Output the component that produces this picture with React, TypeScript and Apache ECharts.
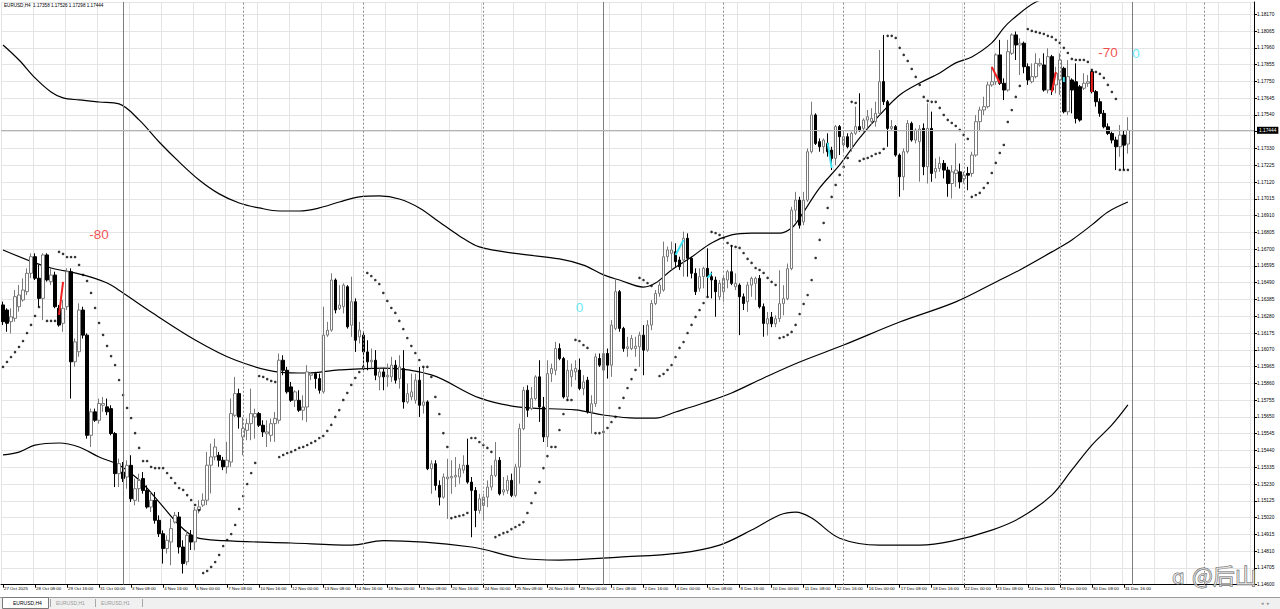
import React, { useEffect, useRef } from "react";
import * as echarts from "echarts";

// ---------- scale ----------
const BASE = 1.146; // prices are plotted as (price - BASE) so ticks start at a multiple of the step
const TICK_STEP = 0.00105;
const Y_TOP = 1.18247;
const SLOT_COUNT = 313; // 282 bars + empty shift area on the right
const LAST_PRICE = 1.17444;
const HEADER = "EURUSD,H4  1.17358 1.17526 1.17298 1.17444";

const DATE_TICKS = [
  "27 Oct 2025", "28 Oct 08:00", "29 Oct 16:00", "31 Oct 00:00", "3 Nov 08:00", "4 Nov 16:00",
  "6 Nov 00:00", "7 Nov 08:00", "10 Nov 16:00", "12 Nov 00:00", "13 Nov 08:00", "14 Nov 16:00",
  "18 Nov 00:00", "19 Nov 08:00", "20 Nov 16:00", "24 Nov 00:00", "25 Nov 08:00", "26 Nov 16:00",
  "28 Nov 00:00", "1 Dec 08:00", "2 Dec 16:00", "4 Dec 00:00", "5 Dec 08:00", "8 Dec 16:00",
  "10 Dec 00:00", "11 Dec 08:00", "12 Dec 16:00", "16 Dec 00:00", "17 Dec 08:00", "18 Dec 16:00",
  "22 Dec 00:00", "23 Dec 08:00", "24 Dec 16:00", "29 Dec 00:00", "30 Dec 08:00", "31 Dec 16:00",
];

// ---------- candles [open, close, low, high] ----------
const OHLC_OCT = [
  [1.16351, 1.16246, 1.16225, 1.16372], [1.16319, 1.16236, 1.16183, 1.1633], [1.16246, 1.16277, 1.16173, 1.1633],
  [1.16267, 1.16403, 1.16246, 1.16444], [1.1634, 1.16413, 1.16309, 1.16476], [1.16382, 1.16444, 1.16372, 1.16518],
  [1.16434, 1.16549, 1.16413, 1.1658], [1.16549, 1.16653, 1.16518, 1.16674], [1.16653, 1.16518, 1.16507, 1.16674],
  [1.16518, 1.16392, 1.1634, 1.16601], [1.16392, 1.16664, 1.16256, 1.16674], [1.16664, 1.16507, 1.16497, 1.16674],
  [1.16497, 1.16538, 1.16476, 1.1658], [1.16538, 1.1634, 1.1633, 1.16559], [1.1633, 1.16225, 1.16215, 1.16351],
  [1.16236, 1.1633, 1.16183, 1.16382], [1.1634, 1.16559, 1.16319, 1.1658], [1.16559, 1.15995, 1.15765, 1.1658],
  [1.15995, 1.1612, 1.15964, 1.16141], [1.16058, 1.16319, 1.16026, 1.16361], [1.16319, 1.16162, 1.16141, 1.1634],
  [1.16162, 1.15535, 1.15514, 1.16173], [1.15535, 1.15682, 1.15462, 1.15702], [1.15682, 1.15629, 1.15619, 1.15702],
  [1.15629, 1.15734, 1.15608, 1.15765], [1.15723, 1.15734, 1.15682, 1.15775], [1.15713, 1.15682, 1.15661, 1.15765],
  [1.15702, 1.15546, 1.15535, 1.15723], [1.15546, 1.15295, 1.15211, 1.15556], [1.15295, 1.15358, 1.15211, 1.15389],
];
const OHLC_NOV_A = [
  [1.15305, 1.15264, 1.15243, 1.15368], [1.15274, 1.15347, 1.15201, 1.15379], [1.15347, 1.15138, 1.15118, 1.1541],
  [1.15128, 1.15201, 1.15097, 1.15264], [1.15201, 1.15253, 1.15118, 1.15295], [1.15264, 1.1519, 1.1517, 1.15305],
  [1.1519, 1.15086, 1.15076, 1.15222], [1.15086, 1.15128, 1.15055, 1.1518], [1.15128, 1.15003, 1.14982, 1.1518],
  [1.15003, 1.14919, 1.14899, 1.15034], [1.14919, 1.14826, 1.14732, 1.1494], [1.14826, 1.14878, 1.14795, 1.14909],
  [1.14867, 1.14951, 1.14722, 1.15013], [1.14992, 1.15034, 1.14982, 1.15055], [1.15024, 1.14836, 1.14795, 1.15055],
  [1.14836, 1.14732, 1.1467, 1.14878], [1.14743, 1.14909, 1.14722, 1.1494], [1.14911, 1.14867, 1.14817, 1.14942],
  [1.14868, 1.15067, 1.14816, 1.15087], [1.15067, 1.15087, 1.15046, 1.15129], [1.15098, 1.15129, 1.15087, 1.15171],
  [1.15129, 1.15348, 1.15098, 1.15431], [1.15348, 1.154, 1.15171, 1.15483], [1.154, 1.15462, 1.15379, 1.15514],
  [1.1541, 1.15379, 1.15338, 1.15431], [1.15379, 1.15338, 1.15317, 1.154], [1.15338, 1.15379, 1.15296, 1.15494],
  [1.15368, 1.15671, 1.15338, 1.15765], [1.1566, 1.15796, 1.1565, 1.15901], [1.15796, 1.1565, 1.15577, 1.15827],
];
const OHLC_NOV_B = [
  [1.15525, 1.15577, 1.1541, 1.1565], [1.15566, 1.15608, 1.15504, 1.1564], [1.15608, 1.15671, 1.15504, 1.15827],
  [1.1565, 1.15671, 1.15514, 1.15702], [1.15671, 1.15598, 1.15587, 1.15681], [1.15598, 1.15556, 1.15525, 1.15629],
  [1.15545, 1.15556, 1.15462, 1.15629], [1.15535, 1.15608, 1.15494, 1.1564], [1.15608, 1.1564, 1.15494, 1.15681],
  [1.15629, 1.16005, 1.15608, 1.16047], [1.16005, 1.15942, 1.15911, 1.16036], [1.15942, 1.15807, 1.15796, 1.15963],
  [1.15838, 1.15754, 1.15744, 1.15869], [1.15754, 1.15807, 1.15712, 1.15817], [1.15754, 1.15692, 1.15681, 1.15817],
  [1.15692, 1.15712, 1.15629, 1.15786], [1.15712, 1.15932, 1.15619, 1.15974], [1.15911, 1.15921, 1.1588, 1.15932],
  [1.15921, 1.1589, 1.15827, 1.15932], [1.1589, 1.15817, 1.15796, 1.15921], [1.15807, 1.16162, 1.15796, 1.1634],
  [1.16162, 1.16193, 1.16151, 1.16245], [1.16193, 1.16507, 1.16183, 1.16549], [1.16507, 1.16319, 1.16298, 1.16517],
  [1.16329, 1.1635, 1.16319, 1.16475], [1.1634, 1.16475, 1.16298, 1.16486], [1.16465, 1.16214, 1.16203, 1.16475],
  [1.16224, 1.16371, 1.16151, 1.16528], [1.16371, 1.1613, 1.16057, 1.16392], [1.16151, 1.16193, 1.1611, 1.16245],
];
const OHLC_NOV_C = [
  [1.16162, 1.16057, 1.15942, 1.16183], [1.16057, 1.15995, 1.15942, 1.1613], [1.15995, 1.16005, 1.15953, 1.16078],
  [1.16005, 1.15911, 1.1588, 1.16068], [1.15901, 1.15932, 1.15817, 1.15953], [1.15932, 1.15901, 1.15817, 1.15953],
  [1.15901, 1.15911, 1.15838, 1.15984], [1.15901, 1.15974, 1.15869, 1.16026], [1.15974, 1.1588, 1.15859, 1.16005],
  [1.1589, 1.15963, 1.15827, 1.16036], [1.15953, 1.15744, 1.15702, 1.16068], [1.15744, 1.15796, 1.15733, 1.15859],
  [1.15775, 1.15807, 1.15754, 1.15921], [1.15754, 1.1588, 1.15733, 1.15921], [1.1588, 1.15723, 1.1565, 1.15963],
  [1.15723, 1.15744, 1.15671, 1.15963], [1.15744, 1.15326, 1.15317, 1.15754], [1.15326, 1.15357, 1.15169, 1.15379],
  [1.15357, 1.15221, 1.1519, 1.15379], [1.15221, 1.15148, 1.15096, 1.15253], [1.15148, 1.15274, 1.15138, 1.15296],
  [1.15263, 1.15274, 1.15012, 1.15388], [1.15269, 1.15278, 1.15169, 1.15379], [1.15274, 1.15284, 1.15211, 1.15399],
  [1.15274, 1.15326, 1.15232, 1.15357], [1.15317, 1.15348, 1.15296, 1.1541], [1.15348, 1.15242, 1.15232, 1.15514],
  [1.15242, 1.1519, 1.14897, 1.15274], [1.1519, 1.15065, 1.1496, 1.15211], [1.15065, 1.15138, 1.15044, 1.15169],
];
const OHLC_NOV_D = [
  [1.15096, 1.15148, 1.15002, 1.15169], [1.15148, 1.15211, 1.15085, 1.15253], [1.15211, 1.15284, 1.1519, 1.15348],
  [1.15284, 1.15379, 1.15274, 1.15493], [1.15379, 1.15169, 1.15159, 1.15399], [1.1518, 1.15194, 1.15159, 1.15274],
  [1.1519, 1.15253, 1.15169, 1.15284], [1.15253, 1.15159, 1.15148, 1.15295], [1.15159, 1.15336, 1.15148, 1.15357],
  [1.15336, 1.15577, 1.15232, 1.15608], [1.15577, 1.15817, 1.15566, 1.15838], [1.15817, 1.15692, 1.1565, 1.15848],
  [1.15702, 1.15765, 1.15692, 1.15838], [1.15765, 1.15901, 1.15754, 1.15911], [1.15901, 1.15712, 1.15619, 1.16005],
  [1.15712, 1.15525, 1.15493, 1.15775], [1.15525, 1.15921, 1.15462, 1.16005], [1.15921, 1.15953, 1.15869, 1.15984],
  [1.15942, 1.16078, 1.15911, 1.1612], [1.16078, 1.16015, 1.16005, 1.1611], [1.16015, 1.15775, 1.15765, 1.16026],
  [1.15775, 1.15942, 1.15754, 1.16005], [1.15901, 1.15942, 1.15838, 1.15984], [1.15932, 1.15953, 1.1588, 1.16005],
  [1.15943, 1.15828, 1.15817, 1.16016], [1.15828, 1.15869, 1.15786, 1.15911], [1.1588, 1.15681, 1.15671, 1.15901],
  [1.15681, 1.15733, 1.15545, 1.15786], [1.15733, 1.16026, 1.15713, 1.16047], [1.16016, 1.15974, 1.15963, 1.16047],
];
const OHLC_DEC_A = [
  [1.15943, 1.16047, 1.1589, 1.16058], [1.16047, 1.15974, 1.1589, 1.16078], [1.15974, 1.16225, 1.15901, 1.16256],
  [1.16204, 1.16434, 1.16193, 1.16517], [1.16434, 1.16204, 1.16183, 1.16444], [1.16204, 1.16078, 1.16058, 1.16214],
  [1.16078, 1.16089, 1.16026, 1.16152], [1.16078, 1.16141, 1.16068, 1.16162], [1.16078, 1.16093, 1.16026, 1.16152],
  [1.16089, 1.16162, 1.15963, 1.16183], [1.16162, 1.16068, 1.15911, 1.16225], [1.16068, 1.16225, 1.16058, 1.16256],
  [1.16225, 1.1636, 1.16193, 1.16381], [1.1636, 1.16423, 1.1635, 1.16444], [1.16423, 1.16475, 1.16402, 1.16496],
  [1.16444, 1.16653, 1.16434, 1.16747], [1.16653, 1.16695, 1.16622, 1.16716], [1.16674, 1.16695, 1.1657, 1.16747],
  [1.16684, 1.16622, 1.1659, 1.16737], [1.16632, 1.1659, 1.1657, 1.16653], [1.16632, 1.16768, 1.16528, 1.1681],
  [1.16768, 1.16643, 1.16528, 1.16799], [1.16643, 1.16549, 1.16517, 1.16653], [1.16549, 1.16434, 1.16413, 1.1658],
  [1.16455, 1.16528, 1.16434, 1.1658], [1.16528, 1.1658, 1.16455, 1.1659], [1.1658, 1.16528, 1.16402, 1.16705],
  [1.16528, 1.16507, 1.16392, 1.16559], [1.16507, 1.16434, 1.16277, 1.16528], [1.16402, 1.16486, 1.16381, 1.16507],
];
const OHLC_DEC_B = [
  [1.16434, 1.16517, 1.16371, 1.16538], [1.16507, 1.16559, 1.16455, 1.1657], [1.16559, 1.16486, 1.16475, 1.16726],
  [1.16465, 1.16486, 1.16444, 1.16549], [1.16475, 1.16402, 1.16162, 1.16486], [1.16402, 1.1636, 1.16319, 1.16423],
  [1.16371, 1.16475, 1.16308, 1.16496], [1.16475, 1.16517, 1.16402, 1.16528], [1.16486, 1.16517, 1.16381, 1.16528],
  [1.16517, 1.1634, 1.16329, 1.16538], [1.1634, 1.16235, 1.16152, 1.1636], [1.16233, 1.16265, 1.1616, 1.16307],
  [1.16275, 1.16233, 1.16212, 1.16307], [1.16233, 1.16265, 1.16212, 1.16286], [1.16265, 1.16359, 1.16244, 1.16568],
  [1.16359, 1.1639, 1.16286, 1.16474], [1.1639, 1.16578, 1.1638, 1.1661], [1.16578, 1.16944, 1.16568, 1.16965],
  [1.16944, 1.17007, 1.16871, 1.17059], [1.17007, 1.1685, 1.16829, 1.17028], [1.16871, 1.17007, 1.1685, 1.17059],
  [1.17007, 1.1731, 1.16996, 1.17331], [1.1731, 1.1754, 1.17299, 1.17623], [1.1754, 1.17362, 1.17352, 1.1755],
  [1.17373, 1.17341, 1.1731, 1.17393], [1.17341, 1.17383, 1.17299, 1.17393], [1.17362, 1.1731, 1.17279, 1.17425],
  [1.1732, 1.17268, 1.17195, 1.17341], [1.17268, 1.17467, 1.17226, 1.17477], [1.17467, 1.17404, 1.17289, 1.17477],
];
const OHLC_DEC_C = [
  [1.17352, 1.17404, 1.1731, 1.17435], [1.17404, 1.17341, 1.17331, 1.17425], [1.17331, 1.17425, 1.1731, 1.17435],
  [1.17425, 1.17467, 1.17414, 1.17592], [1.17467, 1.17446, 1.17435, 1.17676], [1.17456, 1.17508, 1.17435, 1.17519],
  [1.17508, 1.17529, 1.17456, 1.17571], [1.17498, 1.17519, 1.17477, 1.17582], [1.17498, 1.1755, 1.17467, 1.17623],
  [1.1755, 1.17749, 1.1754, 1.17947], [1.17749, 1.17623, 1.17602, 1.18041], [1.17623, 1.17456, 1.17341, 1.17634],
  [1.17456, 1.17467, 1.17446, 1.17508], [1.17467, 1.17289, 1.17279, 1.17477], [1.17289, 1.17153, 1.17028, 1.17299],
  [1.17153, 1.1731, 1.17069, 1.17331], [1.1731, 1.17487, 1.17299, 1.17508], [1.17487, 1.17383, 1.17373, 1.17498],
  [1.17383, 1.17446, 1.17362, 1.17456], [1.17373, 1.17452, 1.17122, 1.17477], [1.17456, 1.17216, 1.17163, 1.17487],
  [1.17216, 1.17456, 1.17111, 1.17613], [1.17456, 1.17174, 1.17122, 1.17561], [1.17184, 1.17205, 1.17143, 1.17268],
  [1.17205, 1.17237, 1.17184, 1.17279], [1.17237, 1.17195, 1.17143, 1.17258], [1.17195, 1.17111, 1.17028, 1.17216],
  [1.17111, 1.17184, 1.17017, 1.17226], [1.17174, 1.17195, 1.1709, 1.17362], [1.17184, 1.17121, 1.1708, 1.17236],
];
const OHLC_DEC_D = [
  [1.17142, 1.17163, 1.17111, 1.17184], [1.17174, 1.17163, 1.17069, 1.17215], [1.17174, 1.17289, 1.17153, 1.1731],
  [1.17289, 1.17498, 1.17278, 1.17539], [1.17498, 1.17571, 1.17445, 1.17592], [1.17571, 1.17592, 1.17539, 1.17654],
  [1.17592, 1.17728, 1.17581, 1.17748], [1.17728, 1.17748, 1.17717, 1.17842], [1.17748, 1.17916, 1.17728, 1.17926],
  [1.17916, 1.17738, 1.17728, 1.1801], [1.17738, 1.17696, 1.17633, 1.17769], [1.17696, 1.17936, 1.17686, 1.1801],
  [1.17926, 1.18041, 1.17916, 1.18051], [1.18041, 1.17978, 1.17884, 1.18062], [1.17978, 1.17989, 1.1779, 1.1802],
  [1.17989, 1.17842, 1.17801, 1.17999], [1.17842, 1.17759, 1.17728, 1.17863], [1.17748, 1.1778, 1.17738, 1.17863],
  [1.1778, 1.17863, 1.17769, 1.17926], [1.17853, 1.17863, 1.17842, 1.17895], [1.17853, 1.17696, 1.17686, 1.17926],
  [1.17696, 1.17905, 1.17675, 1.17957], [1.17905, 1.17696, 1.17665, 1.17916], [1.17728, 1.17801, 1.17675, 1.17842],
];
const OHLC_DEC_E = [
  [1.17759, 1.17884, 1.17665, 1.17926], [1.17832, 1.1756, 1.1755, 1.17842], [1.1756, 1.1778, 1.17539, 1.17884],
  [1.17759, 1.17696, 1.1755, 1.17769], [1.17748, 1.17518, 1.17487, 1.17863], [1.17717, 1.17508, 1.17498, 1.17728],
  [1.17707, 1.17738, 1.17696, 1.17801], [1.17738, 1.17748, 1.17717, 1.1779], [1.17811, 1.17686, 1.17675, 1.17822],
  [1.17686, 1.17623, 1.17592, 1.17696], [1.17623, 1.1755, 1.17529, 1.17644], [1.1755, 1.17466, 1.17456, 1.17571],
  [1.17466, 1.17424, 1.17414, 1.17487], [1.17424, 1.17383, 1.17362, 1.17435], [1.17383, 1.17341, 1.17195, 1.17404],
  [1.17341, 1.17414, 1.17278, 1.17477], [1.17414, 1.17351, 1.17195, 1.17445], [1.17358, 1.17444, 1.17298, 1.17526],
];

// ---------- Parabolic SAR (one value per bar, null = no dot) ----------
const SAR_A = [
  1.15963, 1.15994, 1.16025, 1.16056, 1.16088, 1.16125, 1.16175, 1.16226, 1.16282, 1.16338,
  null, 1.16251, 1.16251, 1.16251, 1.16683, 1.1667, 1.16651, 1.16651, 1.16651, 1.16601,
  1.16539, 1.16501, 1.16426, 1.16332, 1.16238, 1.16163, 1.16094, 1.16031, 1.15975, 1.15881,
  1.15787, 1.15706, 1.15643, 1.15549, 1.15456, 1.15374, 1.15374, 1.15337, 1.1533, 1.1533,
  1.1533, 1.15299, 1.15268, 1.15236, 1.15205, 1.15193, 1.15161, 1.1513, 1.15099, 1.15067,
  1.14673, 1.14686, 1.14711, 1.14742, 1.14786, 1.14842, 1.1488, 1.14917, 1.14974, 1.15074,
  1.15155, 1.1523, 1.15299, 1.15362, 1.15906, 1.159, 1.15887, 1.15875, 1.15869, 1.15399,
  1.15412, 1.15424, 1.15431, 1.15443, 1.15456, 1.15462, 1.15474, 1.15487, 1.15499, 1.15518,
  1.15531, 1.15562, 1.156, 1.1565, 1.15693, 1.15756, 1.158, 1.1585, 1.15894, 1.15931,
  1.15963, 1.16551, 1.16532, 1.16507,
];
const SAR_B = [
  1.16482, 1.16426, 1.16376, 1.16332, 1.16301, 1.16251, 1.162, 1.16144, 1.16094, 1.1605,
  1.16006, 1.15963, 1.15963, 1.159, 1.15775, 1.15668, 1.15549, 1.15462, 1.15017, 1.15024,
  1.1503, 1.15036, 1.15049, 1.15518, 1.15518, 1.15493, 1.15474, 1.15456, 1.15431, 1.14898,
  1.14911, 1.14923, 1.1493, 1.14948, 1.14961, 1.14974, 1.14992, 1.15049, 1.15111, 1.15174,
  1.15243, 1.1533, 1.15405, 1.15462, 1.15462, 1.15568, 1.15668, 1.15756, 1.15756, 1.16132,
  1.16125, 1.161, 1.16082, null, 1.15549, 1.15549, 1.15556, 1.15581, 1.15618, 1.1565,
  1.15706, 1.15769, 1.15831, 1.15887, 1.15944, 1.1652, 1.16507, 1.16488, 1.1647, null,
  1.15906, 1.15919, 1.15944, 1.15975, 1.16025, 1.16082, 1.16119, 1.16175, 1.16226, 1.16276,
  1.16319, 1.16363, 1.16401, 1.16808, 1.16801, 1.16789, 1.1677, 1.16739, 1.1672, 1.16714,
  1.16708, 1.16676, 1.16639, 1.16614,
];
const SAR_C = [
  1.16582, 1.1657, 1.16551, 1.1652, 1.16495, 1.16476, 1.16144, 1.1615, 1.16163, 1.16182,
  1.16226, 1.16294, 1.16357, 1.16413, 1.16507, 1.16645, 1.16758, 1.16864, 1.16958, 1.17027,
  1.17102, 1.17165, 1.17215, 1.17271, 1.17622, 1.17615, 1.17252, 1.17265, 1.17271, 1.17283,
  1.17296, 1.17302, 1.17327, 1.18035, 1.18035, 1.18022, 1.1796, 1.17916, 1.17878, 1.17828,
  1.17778, 1.17728, 1.17653, 1.17628, 1.17622, 1.17622, 1.17584, 1.1754, 1.17509, 1.1749,
  1.17471, 1.17446, 1.17415, 1.1739, 1.17027, 1.17039, 1.17052, 1.17083, 1.17114, 1.17177,
  1.1724, 1.17302, 1.17352, 1.17496, 1.17571, 1.17653, 1.17722, null, 1.18078, 1.18066,
  1.1806, 1.18053, 1.18047, 1.18035, 1.18028, 1.1801, 1.17991, 1.1796, 1.17928, 1.17891,
  1.17884, 1.17884, 1.17884, 1.17872, 1.17822, 1.17809, 1.17797, 1.17772, 1.17728, 1.17684,
  1.1764, 1.17196, 1.17196, 1.17196,
];

// ---------- envelope lines, read as [bar, price] ----------
const UPPER_BAND = [
  [0, 1.17978], [4, 1.17884], [8, 1.17772], [12, 1.17684], [15, 1.17647], [19, 1.17634], [24, 1.17621],
  [29, 1.17609], [34, 1.17509], [39, 1.17371], [44, 1.17246], [49, 1.17133], [54, 1.17046], [59, 1.16989],
  [64, 1.16958], [69, 1.16939], [74, 1.16939], [79, 1.16958], [84, 1.16995], [89, 1.17027], [94, 1.17033],
  [99, 1.17014], [104, 1.16958], [109, 1.1687], [114, 1.16783], [119, 1.16714], [129, 1.1667], [139, 1.16639],
  [145, 1.166], [150, 1.16539], [154, 1.16507], [160, 1.16463], [163, 1.16488], [167, 1.1657], [172, 1.16651],
  [177, 1.16739], [182, 1.16789], [187, 1.16801], [194, 1.16801], [197, 1.16833], [199, 1.16895], [204, 1.17083],
  [209, 1.17227], [214, 1.17396], [219, 1.1754], [224, 1.17665], [229, 1.1774], [234, 1.17803], [238, 1.17866],
  [242, 1.17903], [247, 1.17991], [250, 1.18085], [252, 1.18135], [258, 1.18247], [264, 1.1829], [272, 1.1832],
  [281, 1.183],
];
const MID_BAND = [
  [0, 1.16695], [8, 1.16614], [12, 1.16582], [20, 1.16539], [26, 1.16488], [30, 1.16426], [37, 1.16307],
  [48, 1.16132], [58, 1.16006], [69, 1.15931], [76, 1.15925], [84, 1.15944], [95, 1.15956], [107, 1.15913],
  [119, 1.15769], [129, 1.15712], [143, 1.15694], [150, 1.15662], [158, 1.15643], [163, 1.15643], [168, 1.15681],
  [175, 1.15737], [182, 1.158], [190, 1.15894], [199, 1.15994], [210, 1.161], [224, 1.16244], [238, 1.1637],
  [249, 1.16507], [254, 1.1657], [262, 1.16683], [267, 1.16758], [272, 1.16852], [276, 1.16933], [281, 1.16995],
];
const LOWER_BAND = [
  [0, 1.15412], [4, 1.1543], [8, 1.15474], [14, 1.15487], [19, 1.15462], [24, 1.15399], [29, 1.15349],
  [34, 1.15255], [39, 1.15117], [44, 1.14973], [48, 1.14898], [55, 1.14876], [72, 1.14861], [87, 1.14848],
  [95, 1.14876], [117, 1.14836], [129, 1.14767], [139, 1.14754], [154, 1.14773], [169, 1.14798], [179, 1.14848],
  [187, 1.14942], [194, 1.15036], [198, 1.15054], [202, 1.15017], [209, 1.14891], [219, 1.14848], [229, 1.14848],
  [237, 1.14873], [247, 1.14942], [254, 1.15017], [262, 1.15161], [267, 1.15318], [272, 1.15474], [277, 1.156],
  [281, 1.15725],
];

// ---------- period separators (bar slots) ----------
const MONTH_SEPARATORS = [30, 150, 282];
const WEEK_SEPARATORS = [60, 90, 120, 180, 210, 240, 264, 300];

// ---------- signal marks ----------
const RED = "#f01e1e";
const CYAN = "#3fe3f2";
const SIGNAL_STROKES = [
  { color: RED, pts: [[14, 1.16288], [15, 1.16495]] },
  { color: CYAN, pts: [[168, 1.16664], [170, 1.16758]] },
  { color: CYAN, pts: [[176, 1.1652], [177, 1.16551]] },
  { color: CYAN, pts: [[206, 1.17365], [207, 1.17208]] },
  { color: RED, pts: [[247, 1.17841], [249, 1.1774]] },
  { color: RED, pts: [[262, 1.17684], [263, 1.17809]] },
  { color: CYAN, pts: [[265, 1.17778], [265, 1.17747]] },
  { color: RED, pts: [[272, 1.17809], [272, 1.17684]] },
];
const SIGNAL_BARS = [24, 144, 276, 283];
const SIGNAL_PRICES = [1.16789, 1.16338, 1.17928, 1.17922];
const SIGNAL_TEXTS = ["-80", "0", "-70", "0"];
const SIGNAL_COLORS = [RED, CYAN, RED, CYAN];

const TABS = ["EURUSD,H4", "EURUSD,H1", "EURUSD,H1"];

const FONT = "Liberation Sans";

export default function App() {
  const ref = useRef<HTMLDivElement | null>(null);

  useEffect(() => {
    if (!ref.current) return;
    const chart = echarts.init(ref.current, undefined, { renderer: "svg" });

    const slots = Array.from({ length: SLOT_COUNT }, (_, i) => String(i));
    const shift = (v: number) => v - BASE;
    const candles = [
      ...OHLC_OCT, ...OHLC_NOV_A, ...OHLC_NOV_B, ...OHLC_NOV_C, ...OHLC_NOV_D,
      ...OHLC_DEC_A, ...OHLC_DEC_B, ...OHLC_DEC_C, ...OHLC_DEC_D, ...OHLC_DEC_E,
    ].map((r) => r.map(shift));
    const sarAll = [...SAR_A, ...SAR_B, ...SAR_C];
    const sarPoints: number[][] = [];
    sarAll.forEach((v, i) => {
      if (v != null) sarPoints.push([i, shift(v as number)]);
    });
    const bandData = (arr: number[][]) => arr.map(([b, p]) => [b, shift(p)]);
    const every8 = (idx: number) => idx % 8 === 0;
    const labelIdx = (idx: number) => idx % 8 === 0 && idx / 8 < DATE_TICKS.length;

    const bandSeries = [UPPER_BAND, MID_BAND, LOWER_BAND].map((arr) => ({
      type: "line",
      data: bandData(arr),
      smooth: 0.35,
      symbol: "none",
      lineStyle: { color: "#000", width: 1.2 },
      silent: true,
      z: 2,
    }));

    const strokeSeries = SIGNAL_STROKES.map((s) => ({
      type: "line",
      data: s.pts.map(([b, p]) => [b, shift(p)]),
      symbol: "none",
      lineStyle: { color: s.color, width: 2 },
      silent: true,
      z: 5,
    }));

    const markLineData: any[] = [
      ...MONTH_SEPARATORS.map((b) => ({
        xAxis: b,
        lineStyle: { color: "#7d7d7d", type: "solid", width: 1 },
        label: { show: false },
      })),
      ...WEEK_SEPARATORS.map((b) => ({
        xAxis: b,
        lineStyle: { color: "#8c8c8c", type: [2, 2], width: 1 },
        label: { show: false },
      })),
      {
        yAxis: shift(LAST_PRICE),
        lineStyle: { color: "#b4b4b4", type: "solid", width: 1 },
        label: {
          show: true,
          position: "end",
          distance: 3,
          formatter: () => LAST_PRICE.toFixed(5),
          backgroundColor: "#000",
          color: "#fff",
          fontSize: 4.8,
          fontFamily: FONT,
          padding: [1, 2, 1, 2],
        },
      },
    ];

    const graphics: any[] = [
      {
        type: "text",
        left: 4,
        top: 3,
        style: { text: HEADER, fill: "#000", font: `4.6px "${FONT}"` },
        z: 10,
      },
      { type: "rect", shape: { x: 0, y: 597, width: 1280, height: 12 }, style: { fill: "#f0f0f0" }, z: 10 },
      { type: "line", shape: { x1: 0, y1: 597.5, x2: 1280, y2: 597.5 }, style: { stroke: "#9a9a9a", lineWidth: 1 }, z: 11 },
      {
        type: "rect",
        shape: { x: 2.5, y: 597.5, width: 46, height: 11 },
        style: { fill: "#ffffff", stroke: "#7a7a7a", lineWidth: 1 },
        z: 11,
      },
      { type: "text", x: 13, y: 600.5, style: { text: TABS[0], fill: "#000", font: `5px "${FONT}"` }, z: 12 },
      { type: "line", shape: { x1: 50.5, y1: 599, x2: 50.5, y2: 607 }, style: { stroke: "#a8a8a8" }, z: 12 },
      { type: "text", x: 56, y: 600.5, style: { text: TABS[1], fill: "#9a9a9a", font: `5px "${FONT}"` }, z: 12 },
      { type: "line", shape: { x1: 95.5, y1: 599, x2: 95.5, y2: 607 }, style: { stroke: "#a8a8a8" }, z: 12 },
      { type: "text", x: 101, y: 600.5, style: { text: TABS[2], fill: "#9a9a9a", font: `5px "${FONT}"` }, z: 12 },
      { type: "line", shape: { x1: 142.5, y1: 599, x2: 142.5, y2: 607 }, style: { stroke: "#a8a8a8" }, z: 12 },
      { type: "text", x: 1261, y: 600.5, style: { text: "◂  ▸", fill: "#8a8a8a", font: `5px "${FONT}"` }, z: 12 },
      {
        type: "text",
        x: 1192,
        y: 563,
        style: {
          text: "@后山",
          fill: "rgba(255,255,255,0.55)",
          stroke: "#5e5e5e",
          lineWidth: 0.9,
          font: `22px "Noto Sans CJK SC"`,
        },
        z: 12,
      },
      {
        type: "text",
        x: 1172,
        y: 567,
        style: {
          text: "ɑ",
          fill: "rgba(255,255,255,0.55)",
          stroke: "#5e5e5e",
          lineWidth: 0.9,
          font: `20px "DejaVu Sans"`,
        },
        z: 12,
      },
    ];

    const option: any = {
      animation: false,
      backgroundColor: "#ffffff",
      textStyle: { fontFamily: FONT },
      grid: { left: 1, right: 26, top: 2, bottom: 24.3, containLabel: false },
      xAxis: {
        type: "category",
        data: slots,
        boundaryGap: true,
        axisLine: { show: true, lineStyle: { color: "#000", width: 1 } },
        axisTick: { show: true, interval: labelIdx, alignWithLabel: true, length: 3, lineStyle: { color: "#000" } },
        axisLabel: {
          show: true,
          interval: labelIdx,
          formatter: (_v: string, idx: number) => DATE_TICKS[idx / 8] ?? "",
          align: "left",
          fontSize: 4.4,
          color: "#000",
          margin: 2,
          padding: [0, 0, 0, 1],
        },
        splitLine: { show: true, interval: every8, lineStyle: { color: "#e4e4e4", width: 1 } },
      },
      yAxis: {
        type: "value",
        position: "right",
        min: 0,
        max: Y_TOP - BASE,
        interval: TICK_STEP,
        scale: false,
        axisLine: { show: true, lineStyle: { color: "#000", width: 1 } },
        axisTick: { show: true, length: 3, lineStyle: { color: "#000" } },
        axisLabel: {
          show: true,
          showMaxLabel: false,
          fontSize: 4.8,
          color: "#000",
          margin: 3,
          formatter: (v: number) => {
            const p = v + BASE;
            if (Math.abs(p - LAST_PRICE) < 0.0005) return "";
            return p.toFixed(5);
          },
        },
        splitLine: { show: true, lineStyle: { color: "#e4e4e4", width: 1 } },
      },
      series: [
        {
          type: "candlestick",
          data: candles,
          barWidth: 3,
          itemStyle: {
            color: "#ffffff",
            color0: "#000000",
            borderColor: "#7a7a7a",
            borderColor0: "#000000",
            borderWidth: 1,
          },
          silent: true,
          z: 3,
          markLine: {
            silent: true,
            symbol: ["none", "none"],
            animation: false,
            precision: 5,
            label: { show: false },
            data: markLineData,
          },
        },
        ...bandSeries,
        {
          type: "scatter",
          data: sarPoints,
          symbol: "circle",
          symbolSize: 2.6,
          itemStyle: { color: "#000" },
          silent: true,
          z: 4,
        },
        ...strokeSeries,
        {
          type: "scatter",
          data: SIGNAL_BARS.map((b, i) => ({
            value: [b, shift(SIGNAL_PRICES[i])],
            label: { color: SIGNAL_COLORS[i] },
          })),
          symbolSize: 1,
          itemStyle: { color: "rgba(0,0,0,0)" },
          label: {
            show: true,
            position: "inside",
            formatter: (p: any) => SIGNAL_TEXTS[p.dataIndex],
            fontSize: 13.5,
            fontFamily: FONT,
          },
          silent: true,
          z: 6,
        },
      ],
      graphic: graphics,
    };

    chart.setOption(option);
    return () => chart.dispose();
  }, []);

  return (
    <div
      ref={ref}
      style={{ position: "fixed", left: 0, top: 0, width: 1280, height: 609, background: "#fff" }}
    />
  );
}
